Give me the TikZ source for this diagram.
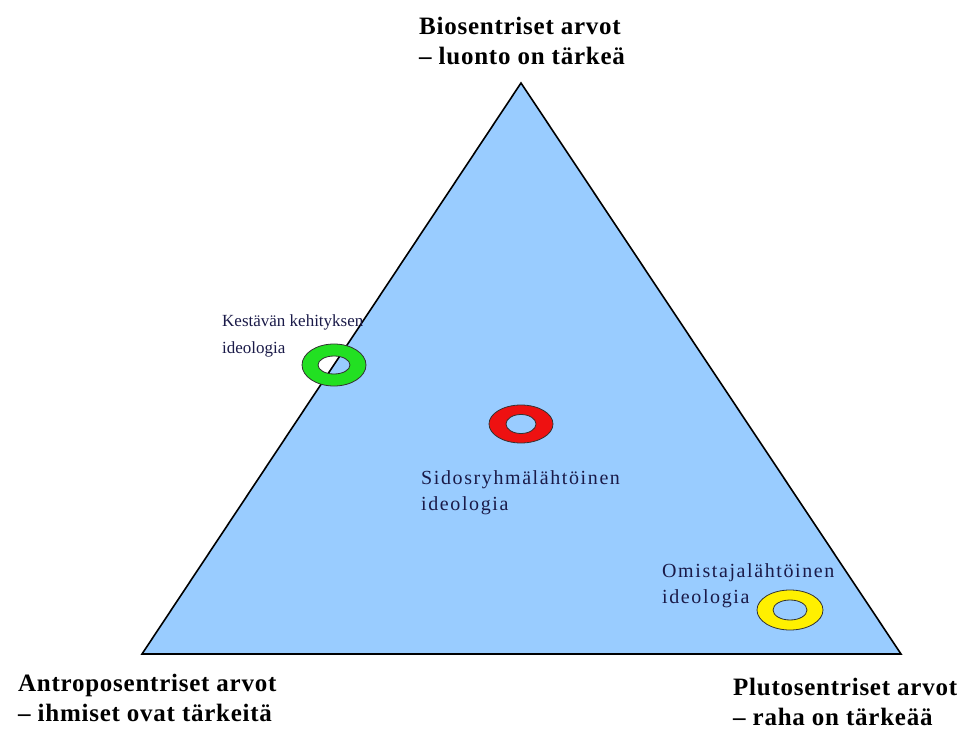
\documentclass[tikz,border=0pt]{standalone}
\usepackage{fontspec}
\setmainfont{Liberation Serif}
\newfontfamily\cornerfont[LetterSpace=3]{Liberation Serif}
\newfontfamily\markfont[LetterSpace=8]{Liberation Serif}
\definecolor{trifill}{HTML}{99CCFF}
\definecolor{markink}{HTML}{1A1A48}
\definecolor{ringgreen}{HTML}{22E022}
\definecolor{ringred}{HTML}{EE1111}
\definecolor{ringyellow}{HTML}{FFF000}
\begin{document}
\begin{tikzpicture}[x=1pt,y=-1pt,
  corner/.style={anchor=north west,inner sep=0pt,align=left,
    font=\cornerfont\bfseries\fontsize{25}{30}\selectfont},
  marklabel/.style={anchor=north west,inner sep=0pt,align=left,text=markink,
    font=\markfont\fontsize{20}{26}\selectfont},
  sidelabel/.style={anchor=north west,inner sep=0pt,align=left,text=markink,
    font=\fontsize{17}{27}\selectfont},
  ringshape/.style={even odd rule,draw=black!80,line width=0.8pt}]
\useasboundingbox (0,0) rectangle (962,738);
% value triangle
\coordinate (top) at (521,83);
\coordinate (bl) at (142,654);
\coordinate (br) at (901,654);
\draw[fill=trifill,line width=1.6pt,line join=miter] (top) -- (bl) -- (br) -- cycle;
% corner captions
\node[corner] (bio) at (419,16.5) {Biosentriset arvot\\– luonto on tärkeä};
\node[corner] (antro) at (18,673.5) {Antroposentriset arvot\\– ihmiset ovat tärkeitä};
\node[corner] (pluto) at (733,677.5) {Plutosentriset arvot\\– raha on tärkeää};
% ideology markers
\path[ringshape,fill=ringgreen]
  (334,365) ellipse [x radius=32,y radius=21]
  (334,365) ellipse [x radius=16,y radius=9];
\path[ringshape,fill=ringred]
  (521,424) ellipse [x radius=32,y radius=19]
  (521,424) ellipse [x radius=15,y radius=9.5];
\path[ringshape,fill=ringyellow]
  (790,610) ellipse [x radius=33,y radius=20]
  (790,610) ellipse [x radius=17,y radius=10];
\node[sidelabel] (kest) at (222,315) {Kestävän kehityksen\\ideologia};
\node[marklabel] (sido) at (421,470) {Sidosryhmälähtöinen\\ideologia};
\node[marklabel] (omis) at (662,563) {Omistajalähtöinen\\ideologia};
\end{tikzpicture}
\end{document}
